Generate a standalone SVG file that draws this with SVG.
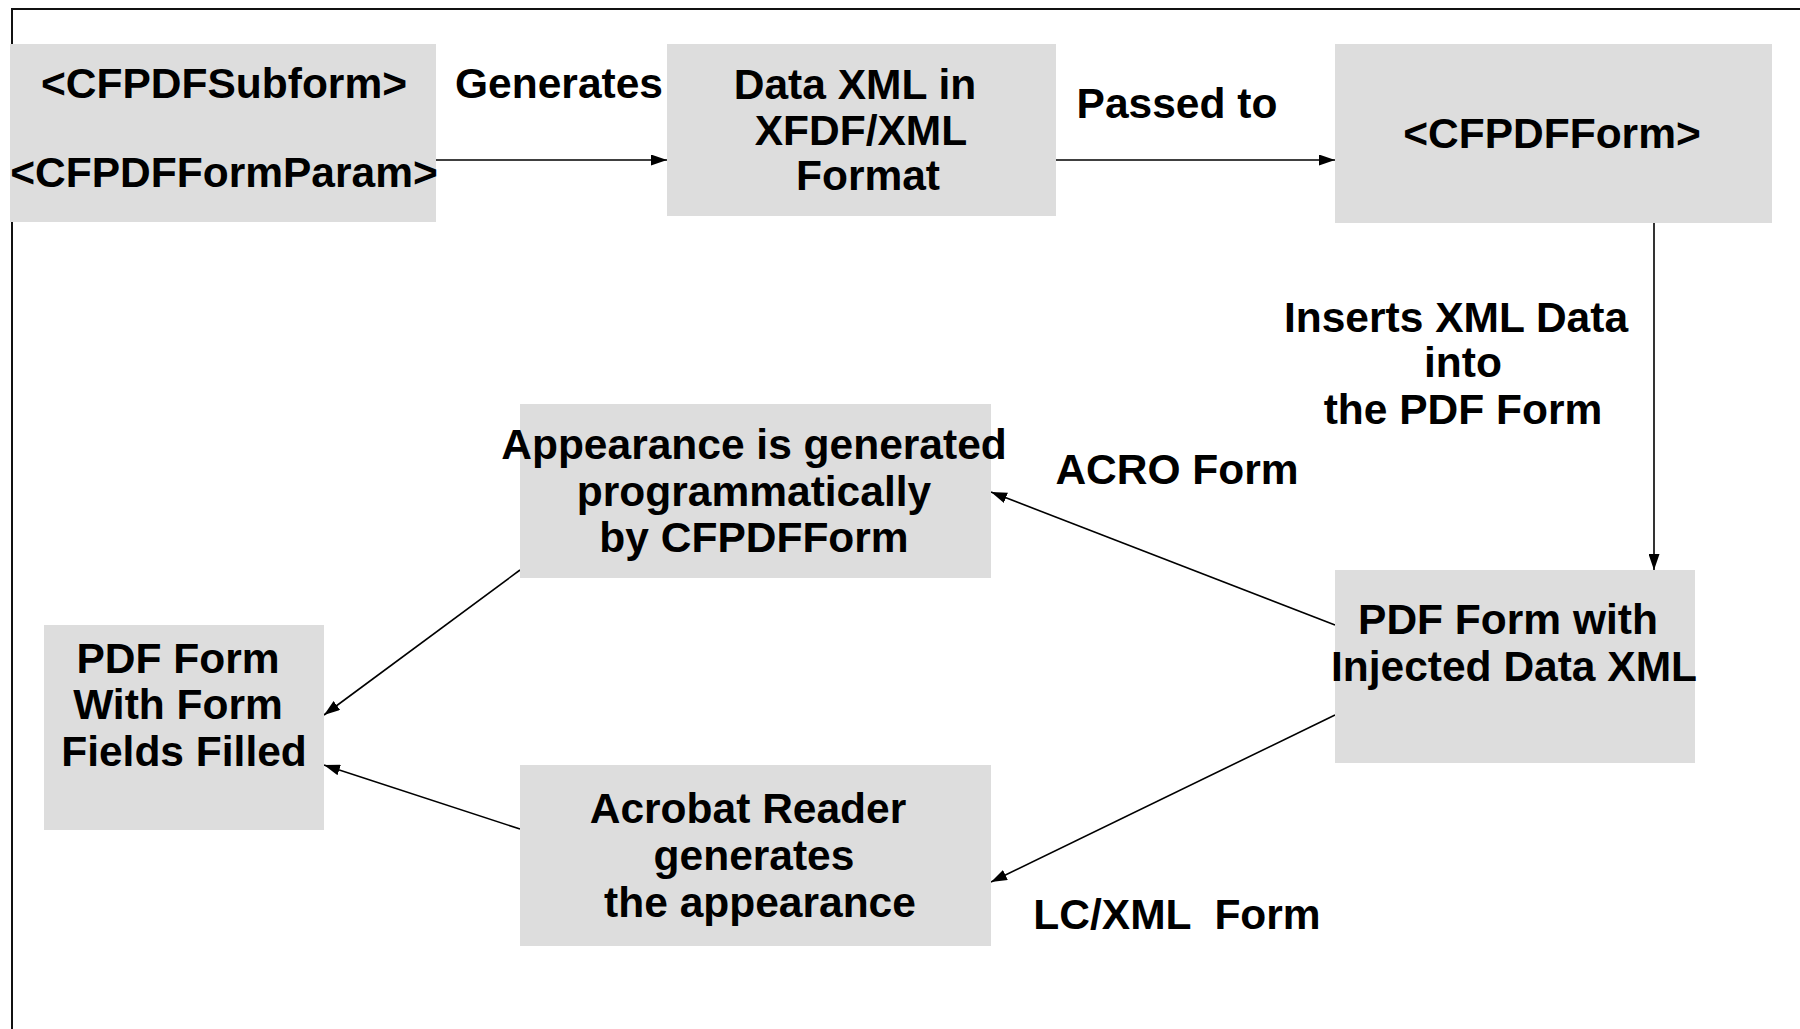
<svg xmlns="http://www.w3.org/2000/svg" width="1800" height="1029" viewBox="0 0 1800 1029">
<defs>
<marker id="ah" viewBox="0 0 16 11" refX="16" refY="5.5" markerWidth="16" markerHeight="11" markerUnits="userSpaceOnUse" orient="auto">
<path d="M0,0 L16,5.5 L0,11 Z" fill="#000"/>
</marker>
</defs>
<style>
.box{fill:#dddddd;stroke:none}
.t{font-family:"Liberation Sans",Arial,sans-serif;font-weight:bold;font-size:42.5px;fill:#000;text-anchor:middle;white-space:pre}
.c{stroke:#000;stroke-width:1.6;fill:none;marker-end:url(#ah)}
.frame{stroke:#111;stroke-width:2;fill:none}
</style>
<rect width="1800" height="1029" fill="#fff"/>
<g id="frame">
<path class="frame" d="M12,1029 L12,9 L1800,9"/>
</g>
<g id="connectors">
<line class="c" x1="436" y1="160" x2="667" y2="160"/>
<line class="c" x1="1056" y1="160" x2="1335" y2="160"/>
<line class="c" x1="1654" y1="223" x2="1654" y2="570"/>
<line class="c" x1="1335" y1="625" x2="991" y2="492"/>
<line class="c" x1="1335" y1="715" x2="991" y2="882"/>
<line class="c" x1="520" y1="570" x2="324" y2="715"/>
<line class="c" x1="520" y1="829" x2="324" y2="765"/>
</g>
<g id="n1">
<rect class="box" x="10" y="44" width="426" height="178"/>
<text class="t" x="224" y="98">&lt;CFPDFSubform&gt;</text>
<text class="t" x="224" y="187">&lt;CFPDFFormParam&gt;</text>
</g>
<g id="lbl-generates">
<text class="t" x="559" y="98">Generates</text>
</g>
<g id="n2">
<rect class="box" x="667" y="44" width="389" height="172"/>
<text class="t" x="855" y="99">Data XML in</text>
<text class="t" x="861" y="145">XFDF/XML</text>
<text class="t" x="868" y="190">Format</text>
</g>
<g id="lbl-passed">
<text class="t" x="1177" y="118">Passed to</text>
</g>
<g id="n3">
<rect class="box" x="1335" y="44" width="437" height="179"/>
<text class="t" x="1552" y="148">&lt;CFPDFForm&gt;</text>
</g>
<g id="lbl-inserts">
<text class="t" x="1456" y="332">Inserts XML Data</text>
<text class="t" x="1463" y="377">into</text>
<text class="t" x="1463" y="424">the PDF Form</text>
</g>
<g id="n4">
<rect class="box" x="520" y="404" width="471" height="174"/>
<text class="t" x="754" y="459">Appearance is generated</text>
<text class="t" x="754" y="506">programmatically</text>
<text class="t" x="754" y="552">by CFPDFForm</text>
</g>
<g id="lbl-acro">
<text class="t" x="1177" y="484">ACRO Form</text>
</g>
<g id="n5">
<rect class="box" x="1335" y="570" width="360" height="193"/>
<text class="t" x="1508" y="634">PDF Form with</text>
<text class="t" x="1514" y="681">Injected Data XML</text>
</g>
<g id="n6">
<rect class="box" x="44" y="625" width="280" height="205"/>
<text class="t" x="178" y="673">PDF Form</text>
<text class="t" x="178" y="719">With Form</text>
<text class="t" x="184" y="766">Fields Filled</text>
</g>
<g id="n7">
<rect class="box" x="520" y="765" width="471" height="181"/>
<text class="t" x="748" y="823">Acrobat Reader</text>
<text class="t" x="754" y="870">generates</text>
<text class="t" x="760" y="917">the appearance</text>
</g>
<g id="lbl-lc">
<text class="t" x="1177" y="929">LC/XML  Form</text>
</g>
</svg>
